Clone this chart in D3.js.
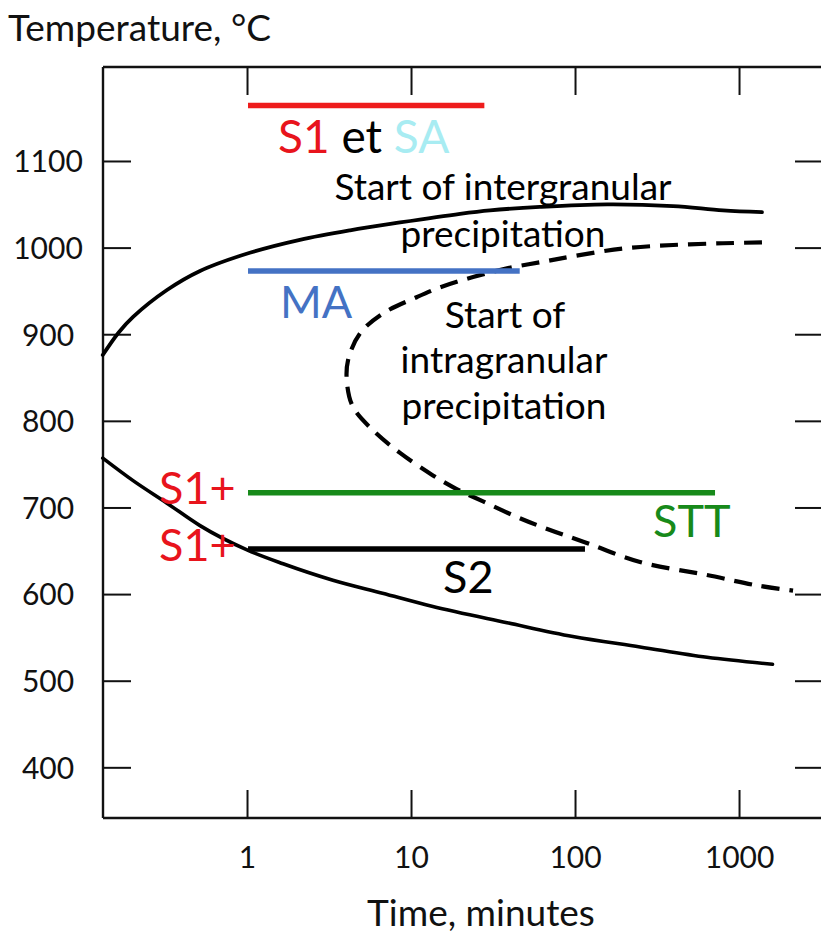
<!DOCTYPE html>
<html>
<head>
<meta charset="utf-8">
<script src="https://cdn.jsdelivr.net/npm/d3@7"></script>
<style>
  html, body { margin: 0; padding: 0; background: #fff; }
  svg { display: block; }
  text { font-family: Lato, "Open Sans", sans-serif; }
</style>
</head>
<body>
<svg id="chart" width="821" height="934"></svg>
<script>
// ---- data (time in minutes, temperature in °C) ----
const xTickValues = [1, 10, 100, 1000];
const yTickValues = [400, 500, 600, 700, 800, 900, 1000, 1100];

// Start of intergranular precipitation (solid C-curve, upper branch)
const intergranularStart = [
  [0.132, 876], [0.165, 902], [0.202, 920], [0.325, 951], [0.517, 973], [1.04, 994], [2.1, 1009],
  [4.25, 1020], [8.57, 1029], [19.9, 1039], [30.3, 1043], [61, 1047], [157, 1050],
  [396, 1048], [798, 1043], [1380, 1041]
];
// Start of intragranular precipitation (dashed C-curve)
const intragranularStart = [
  [1380, 1006], [798, 1005], [396, 1003], [196, 999], [97, 990], [61, 983], [38.5, 976],
  [23.9, 966], [15, 954], [10.9, 943], [6.75, 924], [4.89, 901], [4.13, 870], [4.07, 844],
  [4.43, 816], [5.87, 789], [8.57, 763], [13.6, 737], [19.1, 721], [27.5, 707], [44.3, 689],
  [70.4, 674], [118, 659], [249, 637], [638, 622], [1288, 610], [2135, 604]
];
// Lower branch of intergranular precipitation (solid)
const intergranularLower = [
  [0.132, 757], [0.202, 731], [0.325, 705], [0.517, 679], [1.0, 651],
  [1.66, 635], [3.34, 616], [6.7, 601], [13.4, 586], [38.5, 567], [97, 551],
  [249, 539], [638, 527], [1600, 519]
];

// Heat treatments (isothermal holds)
const treatmentNames = ["S1 et SA", "MA", "STT", "S2"];
const treatmentTemps = [1164, 973, 717, 652];
const treatmentStart = [1, 1, 1, 1];
const treatmentEnd = [28, 46, 714, 115];
const treatmentColors = ["#ee1c1c", "#4472c4", "#178a1a", "#000000"];

// ---- layout ----
const svg = d3.select("#chart");
const mLeft = 103, mRight = 823, mTop = 67, mBottom = 818;

const x = d3.scaleLog().domain([0.1324, 3251]).range([mLeft, mRight]);
const y = d3.scaleLinear().domain([341.5, 1208.5]).range([mBottom, mTop]);

// frame
const frame = svg.append("g").attr("fill", "none").attr("stroke", "#111").attr("stroke-width", 2.4);
frame.append("line").attr("x1", mLeft).attr("x2", mLeft).attr("y1", mTop).attr("y2", mBottom);
frame.append("line").attr("x1", mLeft).attr("x2", mRight).attr("y1", mTop).attr("y2", mTop);
frame.append("line").attr("x1", mLeft).attr("x2", mRight).attr("y1", mBottom).attr("y2", mBottom);
frame.append("line").attr("x1", mRight).attr("x2", mRight).attr("y1", mTop).attr("y2", mBottom);

function styleAxis(g) {
  g.select(".domain").remove();
  g.selectAll(".tick line").attr("stroke", "#111").attr("stroke-width", 2);
  g.selectAll(".tick text").attr("fill", "#111").style("font-family", "Lato, sans-serif");
}

// left axis
const gl = svg.append("g").attr("transform", `translate(${mLeft},0)`)
  .call(d3.axisLeft(y).tickValues(yTickValues).tickSize(-28).tickFormat(d3.format("d")));
styleAxis(gl);
gl.selectAll(".tick text").attr("x", -55).attr("text-anchor", "middle").attr("dy", "0.36em")
  .style("font-size", "30px");

// right axis (ticks only)
const gr = svg.append("g").attr("transform", `translate(${mRight},0)`)
  .call(d3.axisRight(y).tickValues(yTickValues).tickSize(-28).tickFormat(""));
styleAxis(gr);

// bottom axis
const gb = svg.append("g").attr("transform", `translate(0,${mBottom})`)
  .call(d3.axisBottom(x).tickValues(xTickValues).tickSize(-28).tickFormat(d3.format("d")));
styleAxis(gb);
gb.selectAll(".tick text").attr("y", 50).attr("dy", null).style("font-size", "30px");

// top axis (ticks only)
const gt = svg.append("g").attr("transform", `translate(0,${mTop})`)
  .call(d3.axisTop(x).tickValues(xTickValues).tickSize(-28).tickFormat(""));
styleAxis(gt);

// axis titles
svg.append("text").attr("x", 8).attr("y", 41).style("font-size", "37px").attr("fill", "#111")
  .text("Temperature, °C");
svg.append("text").attr("x", 481).attr("y", 926).attr("text-anchor", "middle")
  .style("font-size", "37px").attr("fill", "#111").text("Time, minutes");

// curves
const upperLine = d3.line().x(d => x(d[0])).y(d => y(d[1])).curve(d3.curveCatmullRom.alpha(0.5));
const lowerLine = d3.line().x(d => x(d[0])).y(d => y(d[1])).curve(d3.curveMonotoneX);
const cLine = d3.line().x(d => x(d[0])).y(d => y(d[1])).curve(d3.curveCatmullRom.alpha(0.5));
svg.append("path").datum(intergranularStart).attr("d", upperLine)
  .attr("fill", "none").attr("stroke", "#000").attr("stroke-width", 3.8).attr("stroke-linecap", "round");
svg.append("path").datum(intergranularLower).attr("d", lowerLine)
  .attr("fill", "none").attr("stroke", "#000").attr("stroke-width", 3.6).attr("stroke-linecap", "round");
svg.append("path").datum(intragranularStart).attr("d", cLine)
  .attr("fill", "none").attr("stroke", "#000").attr("stroke-width", 4.2)
  .attr("stroke-dasharray", "18,10");

// treatment lines
const treatments = treatmentNames.map((n, i) => ({
  name: n, T: treatmentTemps[i], t0: treatmentStart[i], t1: treatmentEnd[i], color: treatmentColors[i]
}));
svg.append("g").selectAll("line").data(treatments).join("line")
  .attr("x1", d => x(d.t0) + 1).attr("x2", d => x(d.t1))
  .attr("y1", d => y(d.T)).attr("y2", d => y(d.T))
  .attr("stroke", d => d.color).attr("stroke-width", 5.5);

// annotations
const s1 = svg.append("text").attr("x", 278).attr("y", 153).style("font-size", "46px");
s1.append("tspan").attr("fill", "#e8141c").text("S1");
s1.append("tspan").attr("fill", "#000").text(" et ");
s1.append("tspan").attr("fill", "#a8ecf2").text("SA");

function label(txt, xx, yy, size, color, anchor) {
  svg.append("text").attr("x", xx).attr("y", yy).attr("text-anchor", anchor || "start")
    .style("font-size", size + "px").attr("fill", color).text(txt);
}
label("Start of intergranular", 503, 200, 37, "#000", "middle");
label("precipitation", 503, 247, 37, "#000", "middle");
label("MA", 280, 318, 45, "#4472c4");
label("Start of", 505, 328, 37, "#000", "middle");
label("intragranular", 504, 373, 37, "#000", "middle");
label("precipitation", 504, 419, 37, "#000", "middle");
label("S1+", 159, 504, 45, "#e8141c");
label("S1+", 159, 561, 45, "#e8141c");
label("STT", 653, 537, 45, "#178a1a");
label("S2", 443, 593, 45, "#000");
</script>
</body>
</html>
